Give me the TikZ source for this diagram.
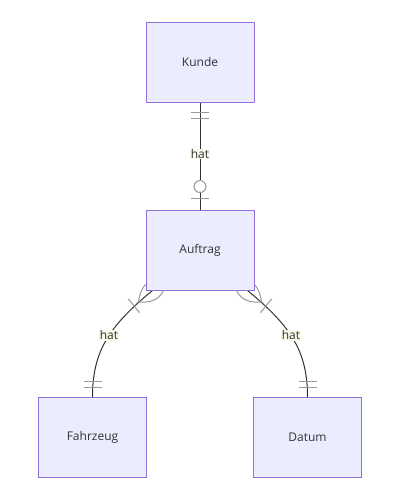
\documentclass[tikz,border=0pt]{standalone}
\usepackage{fontspec}
\setmainfont{Open Sans}
\usetikzlibrary{calc,decorations.markings}
\pgfdeclarelayer{background}
\pgfsetlayers{background,main}
\definecolor{boxfill}{HTML}{ECECFF}
\definecolor{boxline}{HTML}{9370DB}
\definecolor{relline}{HTML}{333333}
\definecolor{markgray}{HTML}{999999}
\definecolor{lblbg}{HTML}{F5FBE9}
\definecolor{txt}{HTML}{333333}
\begin{document}
\begin{tikzpicture}[x=0.75pt,y=-0.75pt,
  entity/.style={draw=boxline, fill=boxfill, line width=0.75pt, minimum width=81pt, minimum height=60pt, inner sep=0pt, text=txt, font=\fontsize{9}{11}\selectfont},
  rel/.style={draw=relline, line width=0.75pt},
  rlabel/.style={fill=lblbg, inner sep=0.5pt, text=txt, font=\fontsize{9}{11}\selectfont},
  mk/.style={draw=markgray, line width=0.75pt},
  oneonlystart/.style={postaction={decorate, decoration={markings, mark=at position 0 with {\draw[mk] (10,-9)--(10,9) (16,-9)--(16,9);}}}},
  oneonlyend/.style={postaction={decorate, decoration={markings, mark=at position 1 with {\draw[mk] (-10,-9)--(-10,9) (-16,-9)--(-16,9);}}}},
  zeroonend/.style={postaction={decorate, decoration={markings, mark=at position 1 with {\draw[mk] (-11,-9)--(-11,9); \draw[mk, fill=white] (-23,0) circle[radius=4.5pt];}}}},
  onemorestart/.style={postaction={decorate, decoration={markings, mark=at position 0 with {\draw[mk] (18,0) .. controls (6,12) and (-6,12) .. (-18,0) .. controls (-6,-12) and (6,-12) .. (18,0); \draw[mk] (24,-9)--(24,9);}}}}
]
\useasboundingbox (0,0) rectangle (401,501);

\node[entity] (kunde) at (200,62) {Kunde};
\node[entity] (auftrag) at (200,250) {Auftrag};
\node[entity] (fahrzeug) at (92.5,437.5) {Fahrzeug};
\node[entity] (datum) at (307.5,437.5) {Datum};

\coordinate (aL) at ($(auftrag.south west)+(7,0)$);
\coordinate (aR) at ($(auftrag.south east)+(-7,0)$);

\begin{pgfonlayer}{background}
\draw[rel, oneonlystart, zeroonend] (kunde.south) -- (auftrag.north) node[pos=0.48, rlabel] (l1) {hat};
\draw[rel, onemorestart, oneonlyend] (aL) .. controls +(-44,36) and +(0,-45) .. (fahrzeug.north) node[pos=0.45, rlabel] (l2) {hat};
\draw[rel, onemorestart, oneonlyend] (aR) .. controls +(44,36) and +(0,-45) .. (datum.north) node[pos=0.45, rlabel] (l3) {hat};
\end{pgfonlayer}
\end{tikzpicture}
\end{document}
